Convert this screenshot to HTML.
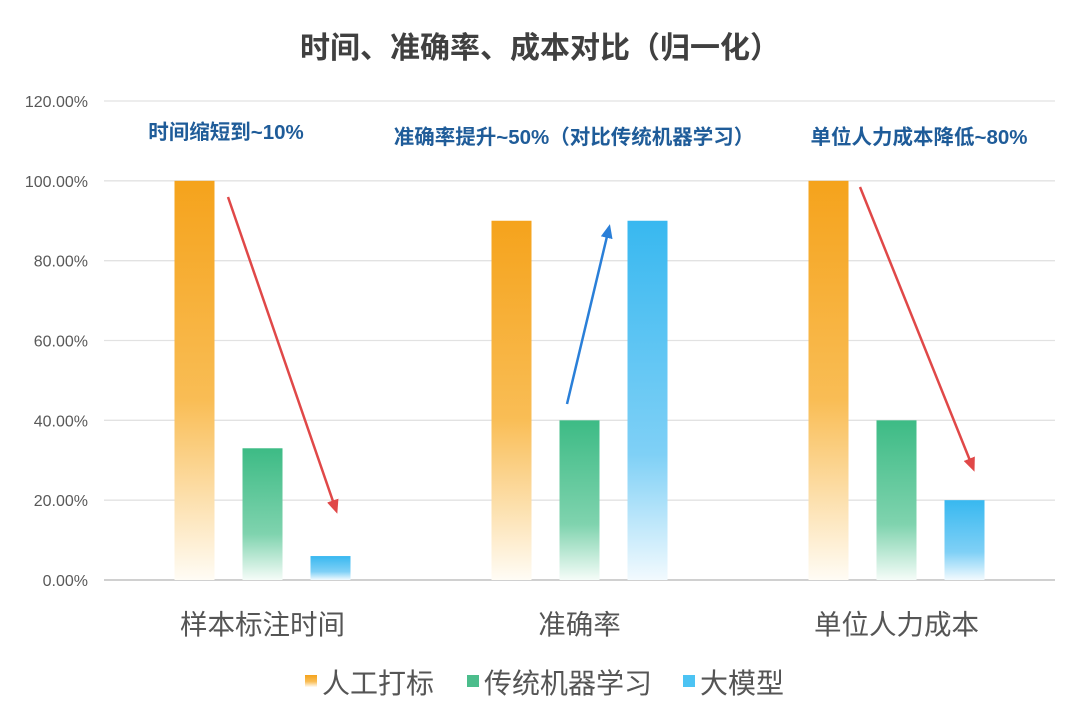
<!DOCTYPE html>
<html><head><meta charset="utf-8">
<style>
body{margin:0;background:#fff;width:1080px;height:718px;overflow:hidden;}
svg text{font-family:"Liberation Sans","Noto Sans CJK SC",sans-serif;}
</style></head>
<body>
<svg id="chart" width="1080" height="718" xmlns="http://www.w3.org/2000/svg">
<defs>
<linearGradient id="gO" x1="0" y1="0" x2="0" y2="1"><stop offset="0" stop-color="#f5a31c"/><stop offset="0.55" stop-color="#f9bd55"/><stop offset="1" stop-color="#fffcf5"/></linearGradient>
<linearGradient id="gG" x1="0" y1="0" x2="0" y2="1"><stop offset="0" stop-color="#3dbb85"/><stop offset="0.65" stop-color="#7fd3ae"/><stop offset="1" stop-color="#f5fcf8"/></linearGradient>
<linearGradient id="gB" x1="0" y1="0" x2="0" y2="1"><stop offset="0" stop-color="#38b8f0"/><stop offset="0.65" stop-color="#7fd0f6"/><stop offset="1" stop-color="#f2fafe"/></linearGradient>
<marker id="mR" markerWidth="14" markerHeight="12" refX="10" refY="6" orient="auto" markerUnits="userSpaceOnUse" viewBox="0 0 14 12"><path d="M0,0 L14,6 L0,12 z" fill="#e04848"/></marker>
<marker id="mB" markerWidth="14" markerHeight="12" refX="10" refY="6" orient="auto" markerUnits="userSpaceOnUse" viewBox="0 0 14 12"><path d="M0,0 L14,6 L0,12 z" fill="#2a7fd8"/></marker>
</defs>
<text x="540" y="58" text-anchor="middle" font-size="30" font-weight="bold" fill="#404040">时间、准确率、成本对比（归一化）</text>
<g id="grid"></g><g id="bars"></g><g id="labels"></g>
<text x="226" y="139" text-anchor="middle" font-size="20.5" font-weight="bold" fill="#1f5c99">时间缩短到~10%</text>
<text x="574" y="144" text-anchor="middle" font-size="20.5" font-weight="bold" fill="#1f5c99">准确率提升~50%（对比传统机器学习）</text>
<text x="919" y="144" text-anchor="middle" font-size="20.5" font-weight="bold" fill="#1f5c99">单位人力成本降低~80%</text>
<line x1="228" y1="197" x2="336" y2="510" stroke="#e04848" stroke-width="2.5" marker-end="url(#mR)"/>
<line x1="567" y1="404" x2="609" y2="228" stroke="#2a7fd8" stroke-width="2.5" marker-end="url(#mB)"/>
<line x1="860" y1="187" x2="973" y2="468" stroke="#e04848" stroke-width="2.5" marker-end="url(#mR)"/>
<g>
<rect x="305" y="675" width="12" height="12" fill="url(#gO)"/>
<text x="322" y="693" font-size="28" fill="#555">人工打标</text>
<rect x="467" y="675" width="12" height="12" fill="#4cbd8c"/>
<text x="484" y="693" font-size="28" fill="#555">传统机器学习</text>
<rect x="683" y="675" width="12" height="12" fill="#4cc3f3"/>
<text x="700" y="693" font-size="28" fill="#555">大模型</text>
</g>
</svg>
<script>
const categories=["样本标注时间","准确率","单位人力成本"];
const manual=[100,90,100];
const traditionalML=[33,40,40];
const llm=[6,90,20];
const yTicks=[0,20,40,60,80,100,120];
const ns="http://www.w3.org/2000/svg";
const x0=104,x1=1055,y0=580,yTop=101;
const y=v=>y0-(v/120)*(y0-yTop);
const bw=(x1-x0)/categories.length;
function mk(tag,attrs,parent){const e=document.createElementNS(ns,tag);for(const k in attrs)e.setAttribute(k,attrs[k]);parent.appendChild(e);return e;}
const grid=document.getElementById('grid'),bars=document.getElementById('bars'),labels=document.getElementById('labels');
yTicks.forEach(t=>{
 const l=mk('line',{x1:x0,x2:x1,y1:y(t),y2:y(t),stroke:t===0?'#d0d0d0':'#e2e2e2','stroke-width':t===0?2:1.3},grid);
 
 
 const tx=mk('text',{x:88,y:y(t)+6,'text-anchor':'end','font-size':16,fill:'#595959'},grid);
 tx.textContent=t.toFixed(2)+'%';
 
 
});
const series=[[manual,'url(#gO)','manual'],[traditionalML,'url(#gG)','ml'],[llm,'url(#gB)','llm']];
categories.forEach((c,i)=>{
 const cx=x0+bw*(i+0.5);
 series.forEach((s,j)=>{
  const v=s[0][i];
  const r=mk('rect',{x:cx-88+j*68,y:y(v),width:40,height:y0-y(v),fill:s[1]},bars);
  
  
 });
 const t=mk('text',{x:cx,y:634,'text-anchor':'middle','font-size':27.5,fill:'#555'},labels);
 t.textContent=c;
 
 
});
</script>
</body></html>
